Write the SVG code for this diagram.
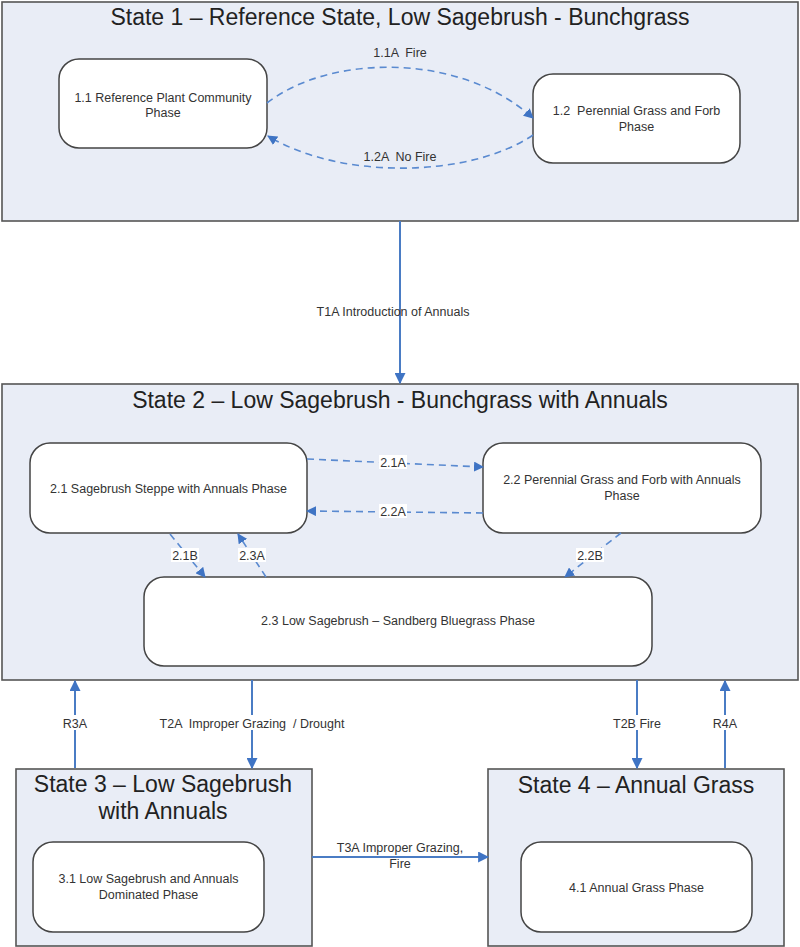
<svg xmlns="http://www.w3.org/2000/svg" width="800" height="947" viewBox="0 0 800 947">
<style>
.state{fill:#E9EDF6;stroke:#555;stroke-width:1.6}
.node{fill:#fff;stroke:#444;stroke-width:1.5}
.title{font-family:"Liberation Sans",Arial,sans-serif;font-size:23px;fill:#222;text-anchor:middle}
.t{font-family:"Liberation Sans",Arial,sans-serif;font-size:12.5px;fill:#333;text-anchor:middle}
.lbl{font-family:"Liberation Sans",Arial,sans-serif;font-size:12.5px;fill:#333;text-anchor:middle}
.dash{fill:none;stroke:#5A8AD0;stroke-width:1.6;stroke-dasharray:7 5;marker-end:url(#ah)}
.solid{fill:none;stroke:#4A7CC4;stroke-width:2;marker-end:url(#ah2)}
.bg{fill:#fff}
</style>
<defs>
<marker id="ah" viewBox="0 0 10 10" refX="9" refY="5" markerWidth="10" markerHeight="10" markerUnits="userSpaceOnUse" orient="auto"><path d="M0,0 L10,5 L0,10 z" fill="#3F74C4"/></marker>
<marker id="ah2" viewBox="0 0 10 10" refX="9" refY="5" markerWidth="11" markerHeight="11" markerUnits="userSpaceOnUse" orient="auto"><path d="M0,0 L10,5 L0,10 z" fill="#3F74C4"/></marker>
</defs>
<rect width="800" height="947" fill="#fff"/>

<g id="state1">
<rect class="state" x="2" y="2" width="796" height="219"/>
<text class="title" x="400" y="25">State 1 – Reference State, Low Sagebrush - Bunchgrass</text>
</g>
<g id="n11">
<rect class="node" x="59" y="59" width="208" height="89" rx="20"/>
<text class="t" x="163" y="101.5">1.1 Reference Plant Community</text>
<text class="t" x="163" y="116.5">Phase</text>
</g>
<g id="n12">
<rect class="node" x="533" y="74" width="207" height="89" rx="20"/>
<text class="t" x="636.5" y="114.5" xml:space="preserve">1.2  Perennial Grass and Forb</text>
<text class="t" x="636.5" y="130.5">Phase</text>
</g>

<g id="state2">
<rect class="state" x="2" y="384" width="796" height="296"/>
<text class="title" x="400" y="408">State 2 – Low Sagebrush - Bunchgrass with Annuals</text>
</g>
<g id="n21">
<rect class="node" x="30" y="443" width="277" height="90" rx="20"/>
<text class="t" x="168.5" y="492.5">2.1 Sagebrush Steppe with Annuals Phase</text>
</g>
<g id="n22">
<rect class="node" x="483" y="443" width="278" height="90" rx="20"/>
<text class="t" x="622" y="483.5">2.2 Perennial Grass and Forb with Annuals</text>
<text class="t" x="622" y="499.5">Phase</text>
</g>
<g id="n23">
<rect class="node" x="144" y="577" width="508" height="89" rx="20"/>
<text class="t" x="398" y="624.5">2.3 Low Sagebrush – Sandberg Bluegrass Phase</text>
</g>

<g id="state3">
<rect class="state" x="16" y="769" width="296" height="177"/>
<text class="title" x="163" y="792">State 3 – Low Sagebrush</text>
<text class="title" x="163" y="819">with Annuals</text>
</g>
<g id="n31">
<rect class="node" x="33" y="842" width="231" height="90" rx="20"/>
<text class="t" x="148.5" y="882.5">3.1 Low Sagebrush and Annuals</text>
<text class="t" x="148.5" y="898.5">Dominated Phase</text>
</g>

<g id="state4">
<rect class="state" x="488" y="769" width="296" height="177"/>
<text class="title" x="636" y="793">State 4 – Annual Grass</text>
</g>
<g id="n41">
<rect class="node" x="521" y="842" width="231" height="90" rx="20"/>
<text class="t" x="636.5" y="891.5">4.1 Annual Grass Phase</text>
</g>

<g id="connectors">
<path class="dash" d="M267,103 C330,54 460,52 533,118"/>
<text class="lbl" x="400" y="56.5" xml:space="preserve">1.1A  Fire</text>
<path class="dash" d="M533,135 C470,178 340,180 268,136"/>
<text class="lbl" x="400" y="160.5" xml:space="preserve">1.2A  No Fire</text>

<path class="solid" d="M400,221 L400,383"/>
<text class="lbl" x="393" y="315.5">T1A Introduction of Annuals</text>

<path class="dash" d="M307,459 L483,467"/>
<rect class="bg" x="379" y="455" width="28" height="14"/>
<text class="lbl" x="393" y="466.5">2.1A</text>
<path class="dash" d="M483,513 L307,511"/>
<rect class="bg" x="379" y="504" width="28" height="14"/>
<text class="lbl" x="393" y="515.5">2.2A</text>

<path class="dash" d="M170,534 L205,577"/>
<rect class="bg" x="171" y="548" width="28" height="14"/>
<text class="lbl" x="185" y="559.5">2.1B</text>
<path class="dash" d="M266,577 L238,534"/>
<rect class="bg" x="238" y="548" width="28" height="14"/>
<text class="lbl" x="252" y="559.5">2.3A</text>
<path class="dash" d="M621,533 L565,577"/>
<rect class="bg" x="576" y="548" width="28" height="14"/>
<text class="lbl" x="590" y="559.5">2.2B</text>

<path class="solid" d="M75,768 L75,681"/>
<rect class="bg" x="61" y="715" width="28" height="15"/>
<text class="lbl" x="75" y="727.5">R3A</text>
<path class="solid" d="M252,680 L252,768"/>
<rect class="bg" x="236" y="715" width="32" height="15"/>
<text class="lbl" x="252" y="727.5" xml:space="preserve">T2A  Improper Grazing  / Drought</text>
<path class="solid" d="M637,680 L637,768"/>
<rect class="bg" x="610" y="715" width="54" height="15"/>
<text class="lbl" x="637" y="727.5">T2B Fire</text>
<path class="solid" d="M725,768 L725,681"/>
<rect class="bg" x="711" y="715" width="28" height="15"/>
<text class="lbl" x="725" y="727.5">R4A</text>

<path class="solid" d="M312,857 L488,857"/>
<text class="lbl" x="400" y="852">T3A Improper Grazing,</text>
<text class="lbl" x="400" y="868">Fire</text>
</g>
</svg>
